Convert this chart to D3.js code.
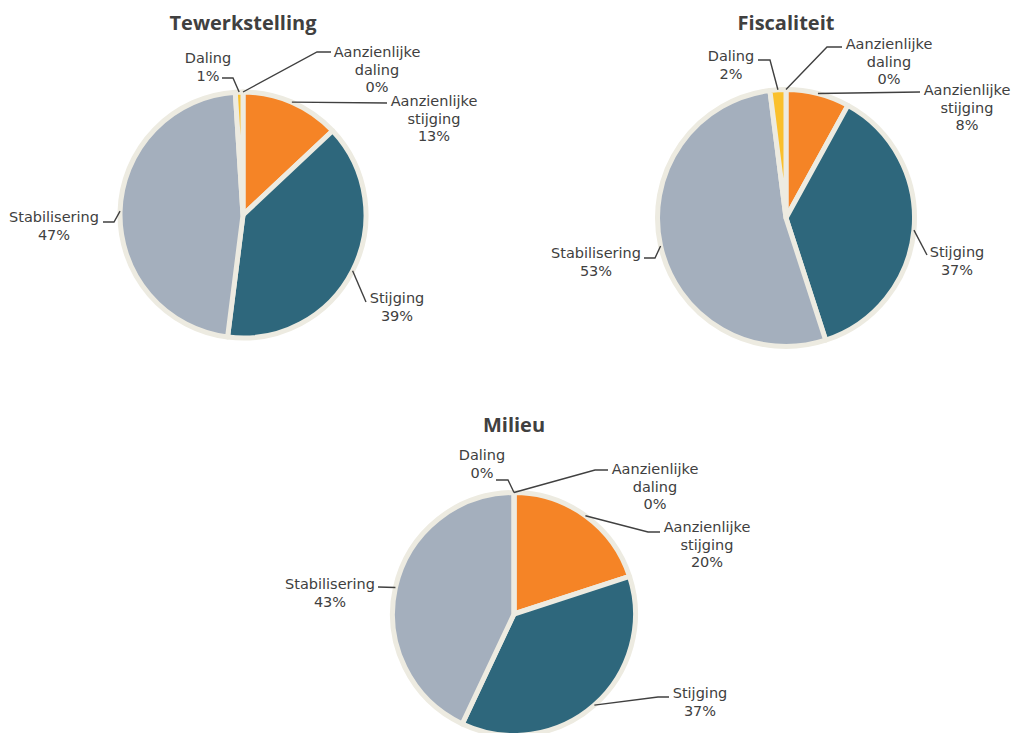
<!DOCTYPE html>
<html lang="nl">
<head>
<meta charset="UTF-8">
<title>Taartdiagrammen</title>
<script src="https://d3js.org/d3.v7.min.js"></script>
<style>
  body { margin: 0; background: #fff; }
  svg { display: block; }
</style>
</head>
<body>
<div id="chart"></div>
<script>
// categorieën, kloksgewijs vanaf 12 uur
const categories = ["Aanzienlijke daling", "Aanzienlijke stijging", "Stijging", "Stabilisering", "Daling"];
const labelLines = [["Aanzienlijke", "daling"], ["Aanzienlijke", "stijging"], ["Stijging"], ["Stabilisering"], ["Daling"]];
const colors = ["#EAEAEA", "#F58426", "#2E677C", "#A4AFBD", "#FAC02C"];

// percentages per thema
const tewerkstelling = [0, 13, 39, 47, 1];
const fiscaliteit = [0, 8, 37, 53, 2];
const milieu = [0, 20, 37, 43, 0];

// layout: middelpunt, straal, label (t = tekst, a = eindpunt lijn, e = knik), t.o.v. middelpunt
const charts = [
  {title: "Tewerkstelling", values: tewerkstelling, cx: 243, cy: 215, r: 123, ty: 30,
   labels: [
     {t: [134, -158], a: [88, -163], e: [74, -163]},
     {t: [191, -109], a: [144, -112]},
     {t: [154, 88], a: [123, 87]},
     {t: [-189, 7], a: [-140, 7], e: [-129, 7]},
     {t: [-35, -152], a: [-21, -137], e: [-10, -137]}
   ]},
  {title: "Fiscaliteit", values: fiscaliteit, cx: 786, cy: 218, r: 128.5, ty: 30,
   labels: [
     {t: [103, -169], a: [56, -171], e: [41, -171]},
     {t: [181, -123], a: [134, -126]},
     {t: [171, 39], a: [141, 37]},
     {t: [-190, 40], a: [-142, 40], e: [-131, 40]},
     {t: [-55, -157], a: [-28, -158], e: [-16, -158]}
   ]},
  {title: "Milieu", values: milieu, cx: 514, cy: 614, r: 121.5, ty: 432,
   labels: [
     {t: [141, -140], a: [94, -144], e: [81, -144]},
     {t: [193, -82], a: [146, -82], e: [134, -82]},
     {t: [186, 84], a: [155, 83], e: [144, 83]},
     {t: [-184, -25], a: [-136, -27]},
     {t: [-32, -154], a: [-18, -134], e: [-6, -134]}
   ]}
];

const width = 1011, height = 733, lineH = 17.5;
const textColor = "#404040";

const svg = d3.select("#chart").append("svg")
  .attr("width", width)
  .attr("height", height);

const pie = d3.pie().sort(null).value(d => d);

charts.forEach(c => {
  const g = svg.append("g").attr("transform", `translate(${c.cx},${c.cy})`);
  const arc = d3.arc().innerRadius(0).outerRadius(c.r);
  const arcs = pie(c.values);

  svg.append("text")
    .attr("x", c.cx)
    .attr("y", c.ty)
    .attr("text-anchor", "middle")
    .style("font-family", "'Open Sans', sans-serif")
    .attr("font-size", 20)
    .attr("font-weight", "bold")
    .attr("fill", textColor)
    .text(c.title);

  g.selectAll("path.slice").data(arcs).enter().append("path")
    .attr("class", "slice")
    .attr("d", arc)
    .attr("fill", (d, i) => colors[i])
    .attr("stroke", "#EDEBE1")
    .attr("stroke-width", 5)
    .attr("stroke-linejoin", "round");

  // leader lines
  g.selectAll("polyline").data(arcs).enter().append("polyline")
    .attr("points", (d, i) => {
      const l = c.labels[i];
      const mid = (d.startAngle + d.endAngle) / 2;
      const p = [c.r * Math.sin(mid), -c.r * Math.cos(mid)];
      const pts = [p];
      if (l.e) pts.push(l.e);
      pts.push(l.a);
      return pts.map(q => q.join(",")).join(" ");
    })
    .attr("fill", "none")
    .attr("stroke", textColor)
    .attr("stroke-width", 1.4);

  // labels
  const lab = g.selectAll("text.lab").data(arcs).enter().append("text")
    .attr("class", "lab")
    .attr("text-anchor", "middle")
    .style("font-family", "'DejaVu Sans', sans-serif")
    .attr("font-size", 14.5)
    .attr("fill", textColor)
    .attr("x", (d, i) => c.labels[i].t[0])
    .attr("y", (d, i) => c.labels[i].t[1]);

  lab.each(function(d, i) {
    const lines = labelLines[i].concat([d3.format(".0f")(d.data) + "%"]);
    const t = d3.select(this);
    lines.forEach((s, k) => {
      t.append("tspan")
        .attr("x", c.labels[i].t[0])
        .attr("dy", k == 0 ? 0 : lineH)
        .text(s);
    });
  });
});
</script>
</body>
</html>
